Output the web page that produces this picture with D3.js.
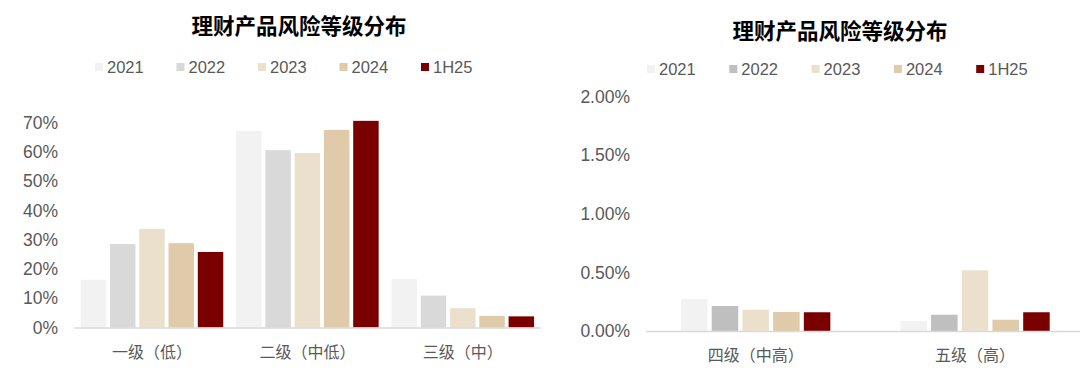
<!DOCTYPE html>
<html lang="zh">
<head>
<meta charset="UTF-8">
<title>理财产品风险等级分布</title>
<style>
    body { margin: 0; background: #fff; }
    svg { display: block; font-family: "Liberation Sans", Arial, "Noto Sans CJK SC", sans-serif; }
    .title { font-family: "Noto Sans CJK SC", sans-serif; font-weight: bold; font-size: 21.5px; fill: #000; }
    .tick-label { font-size: 17.5px; fill: #595959; }
    .cat-label { font-family: "Noto Sans CJK SC", sans-serif; font-size: 16px; fill: #595959; }
    .legend-text { font-size: 16.5px; fill: #595959; }
</style>
</head>
<body>
<div id="chart"></div>
<script src="https://d3js.org/d3.v7.min.js"></script>
<script>
    // series names
    const years = ["2021", "2022", "2023", "2024", "1H25"];

    // left panel: levels 1-3 (percent)
    const leftCategories = ["一级（低）", "二级（中低）", "三级（中）"];
    const left2021 = [16.3, 67.2, 16.6];
    const left2022 = [28.5, 60.6, 10.9];
    const left2023 = [33.7, 59.6, 6.6];
    const left2024 = [28.8, 67.5, 4.0];
    const left1H25 = [25.8, 70.6, 3.8];
    const leftTicks = [0, 10, 20, 30, 40, 50, 60, 70];

    // right panel: levels 4-5 (percent)
    const rightCategories = ["四级（中高）", "五级（高）"];
    const right2021 = [0.273, 0.085];
    const right2022 = [0.213, 0.139];
    const right2023 = [0.182, 0.518];
    const right2024 = [0.162, 0.096];
    const right1H25 = [0.160, 0.160];
    const rightTicks = [0, 0.5, 1.0, 1.5, 2.0];

    const title = "理财产品风险等级分布";

    const leftSeries = [left2021, left2022, left2023, left2024, left1H25];
    const rightSeries = [right2021, right2022, right2023, right2024, right1H25];

    const leftColors = ["#f2f2f2", "#d9d9d9", "#ebe0cc", "#dfcaa9", "#7a0000"];
    const rightColors = ["#f2f2f2", "#bfbfbf", "#ebe0cc", "#dfcaa9", "#7a0000"];

    const width = 1080, height = 372;

    const svg = d3.select("#chart").append("svg")
        .attr("width", width)
        .attr("height", height);

    function drawPanel(opts) {
        const g = svg.append("g");

        const x0 = d3.scaleBand()
            .domain(opts.categories)
            .range([opts.x0, opts.x1])
            .paddingInner(0)
            .paddingOuter(0);

        const x1 = d3.scaleBand()
            .domain(years)
            .range([0, x0.bandwidth()])
            .paddingInner(opts.barPadInner)
            .paddingOuter(opts.barPadOuter);

        const y = d3.scaleLinear()
            .domain([0, opts.yMax])
            .range([opts.yBase, opts.yTop]);

        // title
        g.append("text")
            .attr("class", "title")
            .attr("x", opts.titleX)
            .attr("y", opts.titleY)
            .attr("text-anchor", "middle")
            .text(title);

        // legend
        const legend = g.selectAll(".legend-item")
            .data(years)
            .enter()
            .append("g")
            .attr("transform", (d, i) => "translate(" + (opts.legendX + i * opts.legendStep) + "," + opts.legendY + ")");
        legend.append("rect")
            .attr("x", 0)
            .attr("y", -4)
            .attr("width", 8)
            .attr("height", 8)
            .attr("fill", (d, i) => opts.colors[i]);
        legend.append("text")
            .attr("class", "legend-text")
            .attr("x", 12)
            .attr("y", 0)
            .attr("dy", "0.36em")
            .text(d => d);

        // y axis labels (no axis line)
        const yAxis = d3.axisLeft(y)
            .tickValues(opts.ticks)
            .tickSize(0)
            .tickPadding(0)
            .tickFormat(opts.fmt);
        const ya = g.append("g")
            .attr("transform", "translate(" + opts.labelRight + ",0)")
            .call(yAxis);
        ya.select(".domain").remove();
        ya.selectAll("text")
            .attr("class", "tick-label")
            .attr("font-size", null)
            .attr("font-family", null)
            .attr("fill", null);

        // bars
        const groups = g.selectAll(".cat")
            .data(opts.categories)
            .enter()
            .append("g")
            .attr("transform", d => "translate(" + x0(d) + ",0)");

        groups.selectAll("rect")
            .data((d, ci) => years.map((yr, si) => ({ yr: yr, si: si, v: opts.series[si][ci] })))
            .enter()
            .append("rect")
            .attr("x", d => x1(d.yr))
            .attr("y", d => y(d.v))
            .attr("width", x1.bandwidth())
            .attr("height", d => y(0) - y(d.v))
            .attr("fill", d => opts.colors[d.si]);

        // baseline
        g.append("line")
            .attr("x1", opts.x0)
            .attr("x2", opts.x1)
            .attr("y1", y(0) + 0.5)
            .attr("y2", y(0) + 0.5)
            .attr("stroke", "#d9d9d9")
            .attr("stroke-width", 1.5);

        // category labels
        g.selectAll(".cat-label")
            .data(opts.categories)
            .enter()
            .append("text")
            .attr("class", "cat-label")
            .attr("x", d => x0(d) + x0.bandwidth() / 2)
            .attr("y", opts.catY)
            .attr("text-anchor", "middle")
            .text(d => d);
    }

    drawPanel({
        categories: leftCategories,
        series: leftSeries,
        colors: leftColors,
        x0: 74.3, x1: 540.5,
        barPadInner: 0.13, barPadOuter: 0.22,
        yMax: 70, yBase: 327.5, yTop: 122.6,
        ticks: leftTicks,
        fmt: d => d + "%",
        labelRight: 58,
        titleX: 299, titleY: 34,
        legendX: 95, legendY: 67, legendStep: 81.5,
        catY: 358
    });

    drawPanel({
        categories: rightCategories,
        series: rightSeries,
        colors: rightColors,
        x0: 646, x1: 1084.7,
        barPadInner: 0.137, barPadOuter: 1.14,
        yMax: 2.0, yBase: 331, yTop: 96.7,
        ticks: rightTicks,
        fmt: d => d.toFixed(2) + "%",
        labelRight: 630,
        titleX: 840, titleY: 39,
        legendX: 647, legendY: 69, legendStep: 82.3,
        catY: 361
    });
</script>
</body>
</html>
